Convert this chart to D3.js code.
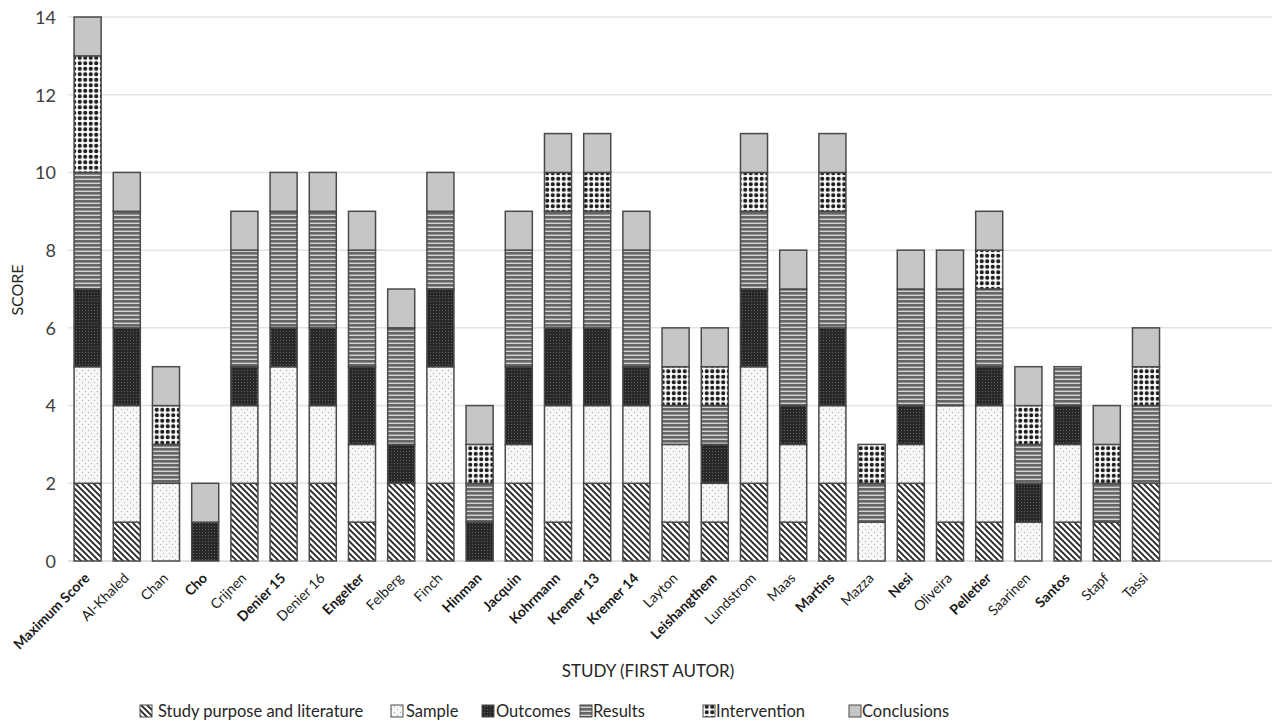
<!DOCTYPE html>
<html>
<head>
<meta charset="utf-8">
<script src="https://cdn.jsdelivr.net/npm/d3@7"></script>
<style>
  html, body { margin: 0; padding: 0; background: #fff; }
  svg { display: block; font-family: Lato, "Open Sans", sans-serif; }
</style>
</head>
<body>
<svg id="chart" width="1282" height="726"></svg>
<script>
const categories = ["Maximum Score","Al-Khaled","Chan","Cho","Crijnen","Denier 15","Denier 16","Engelter","Felberg","Finch","Hinman","Jacquin","Kohrmann","Kremer 13","Kremer 14","Layton","Leishangthem","Lundstrom","Maas","Martins","Mazza","Nesi","Oliveira","Pelletier","Saarinen","Santos","Stapf","Tassi"];
const boldStudies = ["Maximum Score","Cho","Denier 15","Engelter","Hinman","Jacquin","Kohrmann","Kremer 13","Kremer 14","Leishangthem","Martins","Nesi","Pelletier","Santos"];
const seriesNames = ["Study purpose and literature","Sample","Outcomes","Results","Intervention","Conclusions"];
const studyPurpose = [2,1,0,0,2,2,2,1,2,2,0,2,1,2,2,1,1,2,1,2,0,2,1,1,0,1,1,2];
const sample       = [3,3,2,0,2,3,2,2,0,3,0,1,3,2,2,2,1,3,2,2,1,1,3,3,1,2,0,0];
const outcomes     = [2,2,0,1,1,1,2,2,1,2,1,2,2,2,1,0,1,2,1,2,0,1,0,1,1,1,0,0];
const results      = [3,3,1,0,3,3,3,3,3,2,1,3,3,3,3,1,1,2,3,3,1,3,3,2,1,1,1,2];
const intervention = [3,0,1,0,0,0,0,0,0,0,1,0,1,1,0,1,1,1,0,1,1,0,0,1,1,0,1,1];
const conclusions  = [1,1,1,1,1,1,1,1,1,1,1,1,1,1,1,1,1,1,1,1,0,1,1,1,1,0,1,1];
const yTicks = [0,2,4,6,8,10,12,14];
const xTitle = "STUDY (FIRST AUTOR)";
const yTitle = "SCORE";

const seriesValues = [studyPurpose, sample, outcomes, results, intervention, conclusions];
const table = categories.map((c, i) => {
  const row = { study: c };
  seriesNames.forEach((s, k) => row[s] = seriesValues[k][i]);
  return row;
});

const svg = d3.select("#chart");
const defs = svg.append("defs");

// Patterns
const pSP = defs.append("pattern").attr("id","pat0").attr("patternUnits","userSpaceOnUse").attr("width",6).attr("height",6);
pSP.append("rect").attr("width",6).attr("height",6).attr("fill","#fff");
pSP.append("path").attr("d","M0,0 L6,6 M-1,5 L1,7 M5,-1 L7,1").attr("stroke","#262626").attr("stroke-width",1.9);

const pSa = defs.append("pattern").attr("id","pat1").attr("patternUnits","userSpaceOnUse").attr("width",6).attr("height",6);
pSa.append("rect").attr("width",6).attr("height",6).attr("fill","#f7f7f7");
pSa.append("circle").attr("cx",1.5).attr("cy",1.5).attr("r",0.7).attr("fill","#b5b5b5");
pSa.append("circle").attr("cx",4.5).attr("cy",4.5).attr("r",0.7).attr("fill","#b5b5b5");

const pOu = defs.append("pattern").attr("id","pat2").attr("patternUnits","userSpaceOnUse").attr("width",3).attr("height",3);
pOu.append("rect").attr("width",3).attr("height",3).attr("fill","#282828");
pOu.append("rect").attr("x",1).attr("y",1).attr("width",1).attr("height",1).attr("fill","#5e5e5e");

const pRe = defs.append("pattern").attr("id","pat3").attr("patternUnits","userSpaceOnUse").attr("width",4).attr("height",4);
pRe.append("rect").attr("width",4).attr("height",4).attr("fill","#666");
pRe.append("rect").attr("y",2.7).attr("width",4).attr("height",1.1).attr("fill","#eeeeee");

const pIn = defs.append("pattern").attr("id","pat4").attr("patternUnits","userSpaceOnUse").attr("width",5.5).attr("height",5.5);
pIn.append("rect").attr("width",5.5).attr("height",5.5).attr("fill","#fff");
pIn.append("circle").attr("cx",2.75).attr("cy",2.75).attr("r",2.1).attr("fill","#1e1e1e");

const fills = ["url(#pat0)","url(#pat1)","url(#pat2)","url(#pat3)","url(#pat4)","#c6c6c6"];

// Scales
const x = d3.scaleBand().domain(categories).range([68, 1165.6]).paddingInner(0.31).paddingOuter(0.155);
const y = d3.scaleLinear().domain([0, 14]).range([561, 17]);

// Gridlines
svg.append("g").selectAll("line").data(yTicks).join("line")
  .attr("x1", 68).attr("x2", 1272)
  .attr("y1", d => y(d)).attr("y2", d => y(d))
  .attr("stroke", d => d === 0 ? "#d6d6d6" : "#e3e3e3").attr("stroke-width", 1.5);

// Y axis ticks
const yAxis = d3.axisLeft(y).tickValues(yTicks).tickSize(0).tickPadding(0);
const gy = svg.append("g").attr("transform","translate(56,0)").call(yAxis);
gy.select(".domain").remove();
gy.selectAll("text").attr("font-size", 18).attr("fill", "#404040").attr("font-family","Lato, sans-serif").attr("dy","0.35em");

// Stacked bars
const stack = d3.stack().keys(seriesNames).value((d, k) => d[k]);
const layers = stack(table);
svg.append("g").selectAll("g").data(layers).join("g")
  .attr("fill", (d, i) => fills[i])
  .selectAll("rect").data(d => d.filter(s => s[1] - s[0] > 0)).join("rect")
  .attr("x", d => x(d.data.study))
  .attr("width", x.bandwidth())
  .attr("y", d => y(d[1]))
  .attr("height", d => y(d[0]) - y(d[1]))
  .attr("stroke", "#4a4a4a").attr("stroke-width", 1.5);

// X axis labels
const xAxis = d3.axisBottom(x).tickSize(0).tickPadding(0);
const gx = svg.append("g").attr("transform","translate(0,561)").call(xAxis);
gx.select(".domain").remove();
gx.selectAll("text")
  .attr("font-size", 14)
  .attr("fill", "#1a1a1a")
  .attr("font-family","Lato, sans-serif")
  .attr("font-weight", d => boldStudies.includes(d) ? "bold" : "normal")
  .attr("text-anchor", "end")
  .attr("dy", null).attr("y", null)
  .attr("transform", "translate(3,18) rotate(-45)");

// Axis titles
svg.append("text").attr("x", 648).attr("y", 677).attr("text-anchor","middle")
  .attr("font-size", 17).attr("fill","#262626").text(xTitle);
svg.append("text").attr("transform","translate(23,290) rotate(-90)").attr("text-anchor","middle")
  .attr("font-size", 16).attr("fill","#262626").text(yTitle);

// Legend
const legendPos = [[140,158],[391,406],[482,496],[580,593],[703,716],[849,862]];
const lg = svg.append("g");
seriesNames.forEach((s, i) => {
  lg.append("rect").attr("x", legendPos[i][0]).attr("y", 705).attr("width", 12).attr("height", 12)
    .attr("fill", fills[i]).attr("stroke", "#4a4a4a").attr("stroke-width", 1);
  lg.append("text").attr("x", legendPos[i][1]).attr("y", 717)
    .attr("font-size", 16.5).attr("fill", "#262626").text(s);
});
</script>
</body>
</html>
